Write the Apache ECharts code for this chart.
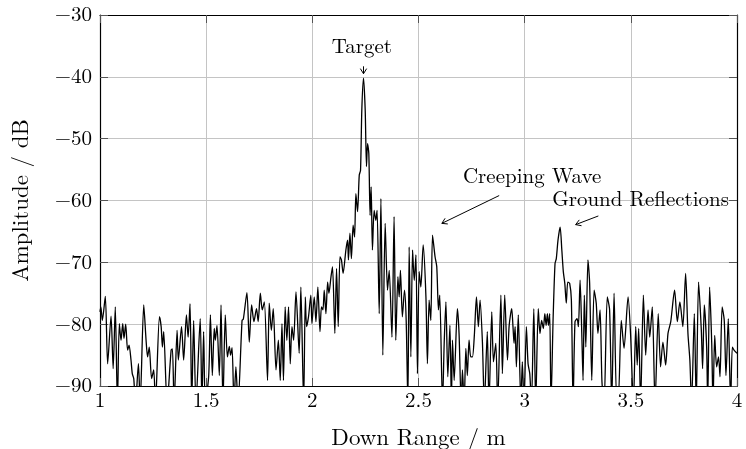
<!DOCTYPE html>
<html>
<head>
<meta charset="utf-8">
<script src="https://cdn.jsdelivr.net/npm/echarts@6/dist/echarts.min.js"></script>
<style>
html,body{margin:0;padding:0;background:#fff;}
#c{width:746px;height:449px;}
</style>
</head>
<body>
<div id="c"></div>
<script>
// Down range (m) of each traced sample
const downRange = [
1.000,1.004,1.011,1.025,1.036,1.052,1.062,1.072,1.082,1.091,1.099,1.107,1.113,1.121,1.130,1.137,1.146,1.152,1.159,1.167,
1.181,1.189,1.206,1.217,1.224,1.232,1.243,1.253,1.261,1.280,1.288,1.294,1.300,1.316,1.335,1.341,1.349,1.363,1.369,1.384,
1.394,1.407,1.415,1.424,1.432,1.441,1.452,1.472,1.480,1.488,1.496,1.512,1.520,1.529,1.538,1.543,1.551,1.562,1.570,1.579,
1.590,1.600,1.609,1.615,1.622,1.631,1.640,1.650,1.669,1.675,1.692,1.703,1.714,1.725,1.737,1.745,1.755,1.764,1.774,1.789,
1.797,1.807,1.816,1.829,1.840,1.849,1.857,1.864,1.872,1.880,1.888,1.896,1.904,1.912,1.923,1.938,1.946,1.959,1.967,1.973,
1.982,1.993,1.998,2.009,2.017,2.026,2.036,2.043,2.050,2.056,2.064,2.072,2.078,2.088,2.095,2.106,2.114,2.122,2.130,2.137,
2.145,2.158,2.166,2.170,2.177,2.184,2.192,2.199,2.205,2.213,2.221,2.227,2.233,2.241,2.249,2.255,2.260,2.266,2.272,2.277,
2.283,2.291,2.299,2.305,2.315,2.323,2.332,2.343,2.354,2.362,2.375,2.385,2.393,2.403,2.409,2.415,2.424,2.434,2.442,2.450,
2.456,2.464,2.472,2.480,2.488,2.495,2.503,2.511,2.522,2.535,2.542,2.550,2.558,2.566,2.578,2.586,2.594,2.600,2.613,2.621,
2.629,2.638,2.648,2.655,2.660,2.668,2.683,2.691,2.701,2.707,2.715,2.723,2.730,2.738,2.746,2.754,2.763,2.773,2.782,2.790,
2.801,2.810,2.824,2.832,2.845,2.853,2.864,2.873,2.888,2.895,2.906,2.919,2.927,2.939,2.945,2.950,2.955,2.961,2.970,2.982,
2.989,2.997,3.008,3.016,3.024,3.032,3.043,3.052,3.064,3.072,3.080,3.088,3.095,3.101,3.107,3.112,3.118,3.124,3.134,3.143,
3.149,3.157,3.167,3.175,3.182,3.189,3.196,3.203,3.212,3.220,3.228,3.237,3.247,3.253,3.261,3.269,3.275,3.281,3.288,3.298,
3.306,3.316,3.327,3.337,3.345,3.355,3.364,3.374,3.389,3.400,3.410,3.421,3.433,3.441,3.455,3.468,3.487,3.499,3.512,3.523,
3.530,3.537,3.546,3.559,3.570,3.581,3.589,3.601,3.614,3.629,3.640,3.651,3.664,3.675,3.688,3.706,3.719,3.731,3.745,3.758,
3.769,3.778,3.786,3.799,3.808,3.819,3.832,3.838,3.846,3.857,3.862,3.871,3.881,3.887,3.895,3.904,3.913,3.920,3.930,3.940,
3.948,3.959,3.970,3.978,3.986,4.000
];
// Amplitude (dB) read at each of those ranges (values under -90 fall off the bottom of the axis)
const amplitudeDb = [
-78.0,-77.2,-79.4,-75.5,-86.4,-78.7,-87.2,-77.2,-93,-79.9,-82.6,-79.9,-82.3,-80.0,-84.2,-83.4,-85.8,-88.0,-88.8,-93,
-86.4,-93,-76.9,-82.6,-85.3,-83.7,-88.8,-87.4,-93,-78.8,-80.4,-83.7,-81.2,-93,-84.2,-84.0,-93,-81.0,-85.8,-80.4,
-85.8,-78.5,-82.1,-76.7,-93,-79.4,-93,-79.1,-93,-81.2,-93,-88.3,-78.5,-88.3,-80.7,-82.6,-80.2,-88.3,-76.9,-93,
-78.5,-85.3,-83.6,-85.0,-83.8,-93,-86.9,-93,-79.4,-79.2,-74.9,-82.9,-76.9,-79.6,-77.5,-79.6,-75.0,-77.7,-76.4,-89.1,
-76.6,-81.0,-77.5,-87.4,-82.6,-89.1,-79.9,-89.1,-77.2,-82.6,-77.2,-86.4,-80.4,-82.6,-74.8,-84.7,-74.0,-93,-75.6,-80.4,
-78.8,-75.3,-79.9,-75.6,-79.6,-74.0,-81.2,-77.2,-77.7,-74.5,-78.3,-73.2,-75.0,-72.3,-70.7,-81.5,-71.0,-80.4,-69.1,-69.6,
-71.8,-68.0,-66.4,-69.6,-65.3,-69.4,-64.0,-65.9,-58.9,-61.8,-55.9,-55.1,-45.4,-40.2,-45.4,-54.5,-50.8,-52.4,-62.4,-57.8,
-68.0,-61.6,-63.2,-61.6,-78.3,-59.7,-85.0,-63.7,-74.5,-71.3,-82.1,-62.6,-82.6,-72.3,-75.6,-71.3,-78.8,-74.5,-79.4,-93,
-67.5,-85.3,-68.0,-72.9,-68.8,-88.0,-71.5,-74.0,-67.2,-75.6,-86.4,-76.1,-79.4,-65.6,-69.1,-70.7,-77.7,-75.3,-93,-83.1,
-76.4,-88.5,-80.2,-93,-82.6,-89.1,-77.5,-81.5,-93,-87.4,-93,-83.9,-88.3,-82.6,-85.3,-85.3,-81.8,-75.6,-80.4,-76.1,
-82.9,-93,-81.2,-93,-78.0,-86.1,-83.1,-93,-75.3,-88.0,-75.3,-85.8,-80.2,-77.5,-80.4,-83.1,-80.4,-86.9,-78.5,-93,
-86.1,-93,-80.4,-86.4,-88.0,-93,-77.5,-93,-77.5,-81.5,-79.4,-80.7,-78.3,-80.2,-78.3,-80.2,-78.3,-93,-79.1,-70.2,
-69.4,-66.4,-64.3,-68.0,-71.5,-73.4,-76.6,-73.2,-73.4,-76.1,-93,-79.6,-79.1,-80.4,-72.9,-81.5,-89.1,-75.3,-83.7,-69.6,
-73.4,-89.1,-74.5,-76.6,-81.5,-77.7,-89.3,-93,-75.6,-77.7,-93,-75.0,-92,-92,-79.4,-83.9,-75.6,-81.8,-93,-80.4,
-86.6,-80.7,-93,-75.3,-85.0,-77.7,-82.1,-77.2,-93,-78.3,-86.9,-82.9,-86.6,-81.5,-79.6,-74.5,-79.6,-76.4,-80.4,-71.8,
-81.5,-85.8,-93,-78.3,-93,-73.2,-81.0,-87.2,-76.9,-83.7,-93,-74.0,-83.1,-93,-81.8,-86.9,-85.3,-88.5,-77.2,-79.4,
-88.3,-79.1,-93,-83.7,-84.2,-84.7
];
const xTicks = [1, 1.5, 2, 2.5, 3, 3.5, 4];
const yTicks = [-90, -80, -70, -60, -50, -40, -30];
const xName = 'Down Range / m';
const yName = 'Amplitude / dB';
// Annotation labels and arrows, anchored in data coordinates
const noteText = ['Target', 'Creeping Wave', 'Ground Reflections'];
const noteAt = [[2.233, -35.1], [3.035, -56.2], [3.546, -59.9]];
const arrowFrom = [[2.241, -38.3], [2.880, -59.2], [3.347, -62.5]];
const arrowTo = [[2.241, -39.5], [2.610, -63.7], [3.240, -63.9]];

const FONT = '"Latin Modern Roman","CMU Serif","Liberation Serif",serif';
const chart = echarts.init(document.getElementById('c'), null, {renderer: 'canvas'});
const series = downRange.map((x, i) => [x, amplitudeDb[i]]);
const minus = v => (v < 0 ? '\u2212' : '') + Math.abs(v);

const frameLine = {onZero: false, lineStyle: {color: '#000', width: 1.2}};
const tick = {inside: true, length: 8, lineStyle: {color: '#555', width: 1}};

chart.setOption({
  animation: false,
  backgroundColor: '#fff',
  grid: {left: 100, right: 9, top: 15, bottom: 63, containLabel: false, outerBoundsMode: 'none'},
  xAxis: [{
    type: 'value', min: xTicks[0], max: xTicks[xTicks.length - 1], interval: 0.5,
    position: 'bottom', axisLine: frameLine, axisTick: tick,
    axisLabel: {margin: 4, color: '#000', fontFamily: FONT, fontSize: 21, formatter: v => String(v)},
    splitLine: {show: true, lineStyle: {color: '#c4c4c4', width: 1}},
    name: xName, nameLocation: 'middle', nameGap: 40,
    nameTextStyle: {color: '#000', fontFamily: FONT, fontSize: 23}
  }, {
    type: 'value', min: xTicks[0], max: xTicks[xTicks.length - 1], interval: 0.5,
    position: 'top', axisLine: frameLine, axisTick: tick,
    axisLabel: {show: false}, splitLine: {show: false}
  }],
  yAxis: [{
    type: 'value', min: yTicks[0], max: yTicks[yTicks.length - 1], interval: 10,
    position: 'left', axisLine: frameLine, axisTick: tick,
    axisLabel: {margin: 8, color: '#000', fontFamily: FONT, fontSize: 21, formatter: minus},
    splitLine: {show: true, lineStyle: {color: '#c4c4c4', width: 1}},
    name: yName, nameLocation: 'middle', nameGap: 68,
    nameTextStyle: {color: '#000', fontFamily: FONT, fontSize: 23}
  }, {
    type: 'value', min: yTicks[0], max: yTicks[yTicks.length - 1], interval: 10,
    position: 'right', axisLine: frameLine, axisTick: tick,
    axisLabel: {show: false}, splitLine: {show: false}
  }],
  series: [{
    type: 'line', data: series, xAxisIndex: 0, yAxisIndex: 0,
    showSymbol: false, symbol: 'none', clip: true, smooth: 0.25,
    lineStyle: {color: '#000', width: 1.3}, z: 3
  }]
});

const g = [];
noteText.forEach((t, i) => {
  const p = chart.convertToPixel({gridIndex: 0}, noteAt[i]);
  g.push({type: 'text', x: p[0], y: p[1], z: 10,
    style: {text: t, fill: '#000', fontFamily: FONT, fontSize: 21, align: 'center', verticalAlign: 'middle'}});
  const s = chart.convertToPixel({gridIndex: 0}, arrowFrom[i]);
  const e = chart.convertToPixel({gridIndex: 0}, arrowTo[i]);
  g.push({type: 'line', z: 10, shape: {x1: s[0], y1: s[1], x2: e[0], y2: e[1]},
    style: {stroke: '#000', lineWidth: 1}});
  const a = Math.atan2(e[1] - s[1], e[0] - s[0]);
  const L = 6, w = 0.55;
  g.push({type: 'polyline', z: 10, shape: {points: [
      [e[0] - L * Math.cos(a - w), e[1] - L * Math.sin(a - w)], [e[0], e[1]],
      [e[0] - L * Math.cos(a + w), e[1] - L * Math.sin(a + w)]]},
    style: {stroke: '#000', fill: null, lineWidth: 1}});
});
chart.setOption({graphic: g});
</script>
</body>
</html>
